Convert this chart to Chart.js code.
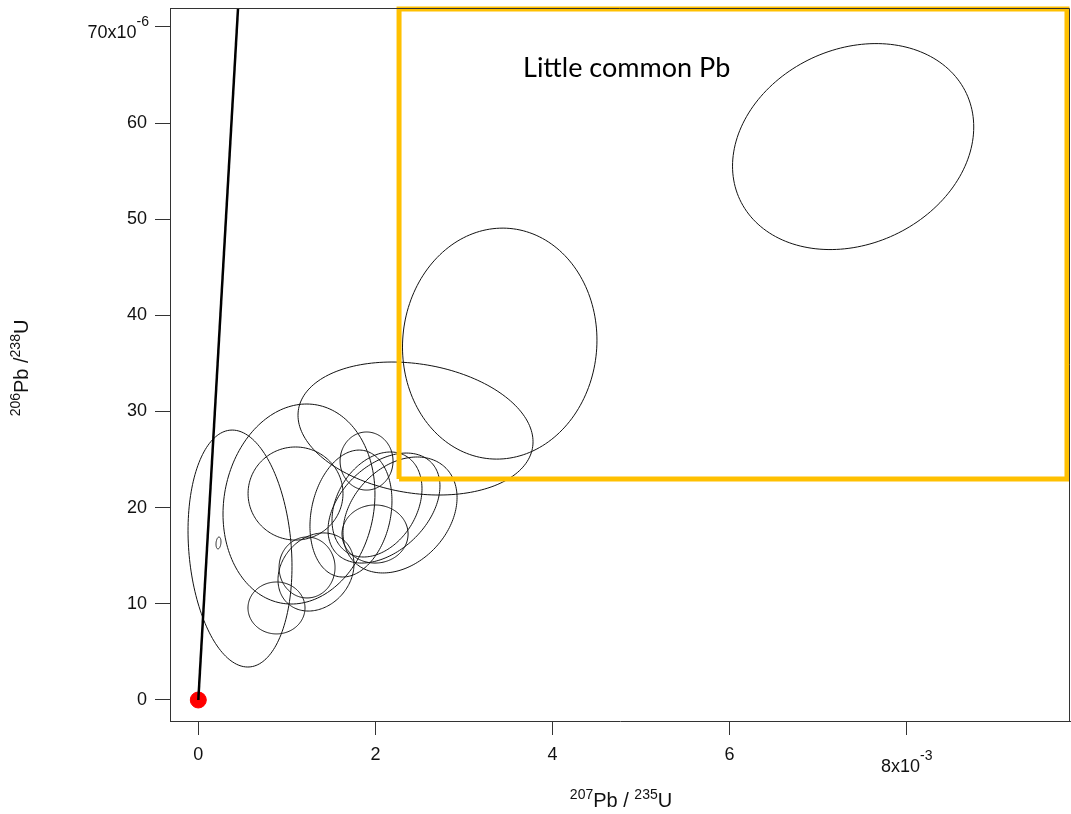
<!DOCTYPE html>
<html>
<head>
<meta charset="utf-8">
<script src="https://cdn.jsdelivr.net/npm/chart.js@4.4.1/dist/chart.umd.min.js"></script>
<style>
  html, body { margin: 0; padding: 0; background: #fff; }
  #wrap { width: 1071px; height: 814px; }
</style>
</head>
<body>
<div id="wrap"><canvas id="concordia" width="1071" height="814"></canvas></div>
<script>
// x = 207Pb/235U (x10^-3), y = 206Pb/238U (x10^-6)
const xTicks = [0, 2, 4, 6, 8];
const yTicks = [0, 10, 20, 30, 40, 50, 60, 70];

// error ellipses: centre, half extents and correlation
const ellX   = [7.395, 3.404, 2.453, 0.471, 1.137, 1.098, 0.883, 1.228, 1.329, 1.724, 1.900, 2.018, 2.097, 2.278, 1.996, 0.228];
const ellSX  = [1.362, 1.098, 1.327, 0.587, 0.858, 0.536, 0.322, 0.316, 0.429, 0.463, 0.299, 0.508, 0.632, 0.644, 0.373, 0.028];
const ellY   = [57.55, 37.06, 28.23, 15.75, 20.38, 21.47, 9.57, 13.78, 13.31, 19.39, 24.85, 20.33, 19.96, 19.24, 17.26, 16.33];
const ellSY  = [10.71, 12.01, 6.915, 12.32, 10.40, 4.84, 2.70, 3.17, 4.06, 6.60, 3.02, 5.46, 5.72, 6.03, 3.02, 0.62];
const ellRho = [0.19, 0.03, -0.2, -0.15, 0.1, 0.0, 0.0, 0.0, 0.2, 0.2, 0.0, 0.3, 0.4, 0.3, 0.0, 0.2];

// concordia line and common Pb origin
const concX = [0, 0.449];
const concY = [0, 72];
const originX = [0];
const originY = [0];

// "little common Pb" box
const boxX = [2.267, 9.81];
const boxY = [22.98, 71.85];
const boxLabel = "Little common Pb";
const boxLabelAt = [3.667, 64.83];

function toPts(xs, ys) {
    return xs.map((x, i) => ({ x: x, y: ys[i] }));
}

const boxPts = [
    { x: boxX[0], y: boxY[0] },
    { x: boxX[0], y: boxY[1] },
    { x: boxX[1], y: boxY[1] },
    { x: boxX[1], y: boxY[0] },
    { x: boxX[0], y: boxY[0] },
];

// draws a run of text with superscript parts
function drawRich(ctx, parts, x, y, align, mainSize, supSize, rise) {
    const fontOf = (p) => (p.sup ? supSize : mainSize) + "px 'Liberation Sans', Arial, sans-serif";
    let total = 0;
    parts.forEach((p) => {
        ctx.font = fontOf(p);
        p.w = ctx.measureText(p.t).width;
        total += p.w;
    });
    let cx = x;
    if (align === "center") cx = x - total / 2;
    if (align === "right") cx = x - total;
    ctx.textAlign = "left";
    ctx.textBaseline = "alphabetic";
    parts.forEach((p) => {
        ctx.font = fontOf(p);
        ctx.fillText(p.t, cx, p.sup ? y - rise : y);
        cx += p.w;
    });
}

const ellipsePlugin = {
    id: "ellipses",
    beforeDatasetsDraw(chart) {
        const { ctx, chartArea, scales } = chart;
        ctx.save();
        ctx.beginPath();
        ctx.rect(chartArea.left, chartArea.top, chartArea.right - chartArea.left, chartArea.bottom - chartArea.top);
        ctx.clip();
        ctx.strokeStyle = "#111";
        ctx.lineWidth = 1;
        for (let i = 0; i < ellX.length; i++) {
            const r = ellRho[i];
            const q = Math.sqrt(1 - r * r);
            ctx.beginPath();
            for (let k = 0; k <= 180; k++) {
                const t = (k / 180) * Math.PI * 2;
                const dx = ellSX[i] * Math.cos(t);
                const dy = ellSY[i] * (r * Math.cos(t) + q * Math.sin(t));
                const px = scales.x.getPixelForValue(ellX[i] + dx);
                const py = scales.y.getPixelForValue(ellY[i] + dy);
                if (k === 0) ctx.moveTo(px, py);
                else ctx.lineTo(px, py);
            }
            ctx.closePath();
            ctx.stroke();
        }
        ctx.restore();
    },
};

const textPlugin = {
    id: "texts",
    afterDraw(chart) {
        const { ctx, chartArea, scales } = chart;
        ctx.save();

        // top and right side of the frame
        ctx.strokeStyle = "#333";
        ctx.lineWidth = 1;
        ctx.beginPath();
        ctx.moveTo(chartArea.left, chartArea.top + 0.5);
        ctx.lineTo(chartArea.right - 0.5, chartArea.top + 0.5);
        ctx.lineTo(chartArea.right - 0.5, chartArea.bottom);
        ctx.stroke();

        ctx.fillStyle = "#111";
        // last tick labels with exponent
        const y70 = scales.y.getPixelForValue(70);
        drawRich(ctx, [{ t: "70x10" }, { t: "-6", sup: true }], 149, y70 + 11, "right", 18, 14, 12);
        const x8 = scales.x.getPixelForValue(8);
        drawRich(ctx, [{ t: "8x10" }, { t: "-3", sup: true }], x8, 772, "center", 18, 14, 12);

        // axis titles
        drawRich(ctx, [{ t: "207", sup: true }, { t: "Pb / " }, { t: "235", sup: true }, { t: "U" }], 621, 807, "center", 20, 14, 8);
        ctx.save();
        ctx.translate(28, 368);
        ctx.rotate(-Math.PI / 2);
        drawRich(ctx, [{ t: "206", sup: true }, { t: "Pb /" }, { t: "238", sup: true }, { t: "U" }], 0, 0, "center", 20, 14, 8);
        ctx.restore();

        // box label
        ctx.fillStyle = "#000";
        ctx.font = "27px Lato, 'Open Sans', sans-serif";
        ctx.textAlign = "left";
        ctx.textBaseline = "alphabetic";
        ctx.fillText(boxLabel, scales.x.getPixelForValue(boxLabelAt[0]), scales.y.getPixelForValue(boxLabelAt[1]));
        ctx.restore();
    },
};

new Chart(document.getElementById("concordia"), {
    type: "scatter",
    data: {
        datasets: [
            {
                label: "concordia",
                data: toPts(concX, concY),
                showLine: true,
                borderColor: "#000",
                borderWidth: 2.5,
                pointRadius: 0,
                clip: 0,
            },
            {
                label: "box",
                data: boxPts,
                showLine: true,
                borderColor: "#FFC000",
                borderWidth: 5,
                borderJoinStyle: "miter",
                pointRadius: 0,
                clip: false,
            },
            {
                label: "common Pb",
                data: toPts(originX, originY),
                backgroundColor: "#FF0000",
                borderColor: "#FF0000",
                pointRadius: 8,
                clip: false,
            },
        ],
    },
    options: {
        responsive: false,
        devicePixelRatio: 1,
        animation: false,
        layout: { autoPadding: false, padding: { top: 8, right: 1, left: 0, bottom: 0 } },
        plugins: {
            legend: { display: false },
            tooltip: { enabled: false },
        },
        scales: {
            x: {
                type: "linear",
                min: -0.3196,
                max: 9.844,
                afterBuildTicks: (s) => { s.ticks = xTicks.map((v) => ({ value: v })); },
                afterFit: (s) => {
                    s.height = 93;
                    s.paddingLeft = 0;
                    s.paddingRight = 0;
                },
                grid: { drawOnChartArea: false, drawTicks: true, tickLength: 14, color: "#333" },
                border: { display: true, color: "#333", width: 1 },
                ticks: {
                    font: { family: "'Liberation Sans', Arial, sans-serif", size: 18 },
                    color: "#111",
                    padding: 9,
                    maxRotation: 0,
                    autoSkip: false,
                    callback: (v) => (v === 8 ? "" : String(v)),
                },
            },
            y: {
                type: "linear",
                min: -2.184,
                max: 71.96,
                afterBuildTicks: (s) => { s.ticks = yTicks.map((v) => ({ value: v })); },
                afterFit: (s) => {
                    s.width = 170;
                    s.paddingTop = 0;
                    s.paddingBottom = 0;
                },
                grid: { drawOnChartArea: false, drawTicks: true, tickLength: 15, color: "#333" },
                border: { display: true, color: "#333", width: 1 },
                ticks: {
                    font: { family: "'Liberation Sans', Arial, sans-serif", size: 18 },
                    color: "#111",
                    padding: 8,
                    autoSkip: false,
                    callback: (v) => (v === 70 ? "" : String(v)),
                },
            },
        },
    },
    plugins: [ellipsePlugin, textPlugin],
});
</script>
</body>
</html>
